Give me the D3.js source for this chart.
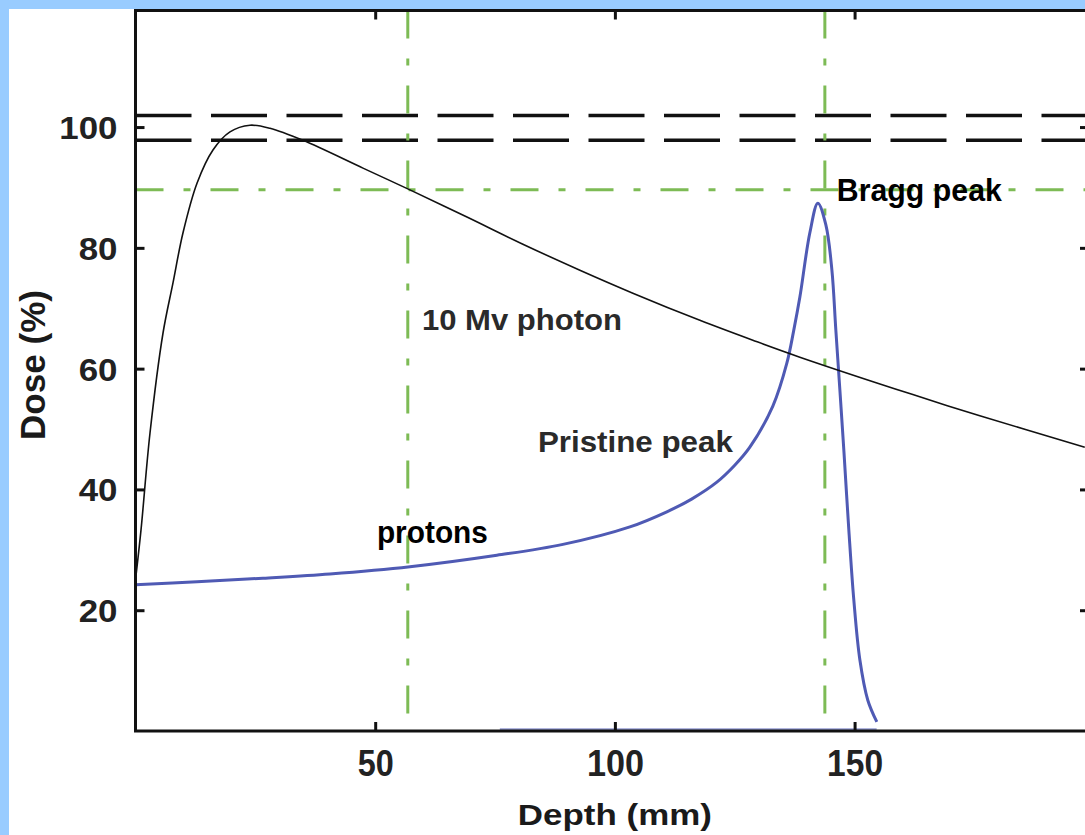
<!DOCTYPE html>
<html>
<head>
<meta charset="utf-8">
<script src="https://cdn.jsdelivr.net/npm/d3@7"></script>
<style>
  html, body { margin: 0; padding: 0; background: #99ccff; }
  svg { display: block; }
  text { font-family: "Liberation Sans", Arial, Helvetica, sans-serif; font-weight: bold; }
</style>
</head>
<body>
<script>
// ---- data ----
const photonDepth = [0, 1.15, 3.02, 5.74, 7.82, 9.91, 12.83, 16.16, 19.71, 23.88, 28.05, 34.93, 47.45, 57.25, 69.14, 80.81, 92.70, 103.75, 117.73, 128.78, 138.58, 162.15, 176.12, 198.02];
const photonDose  = [25.0, 33.3, 49.3, 65.9, 74.2, 82.5, 90.7, 96.2, 99.2, 100.3, 99.8, 97.8, 93.2, 89.6, 85.1, 80.6, 76.3, 72.5, 68.0, 64.7, 61.9, 55.7, 52.2, 47.0];

const protonDepth = [0, 12.83, 26.59, 40.56, 57.25, 75.39, 89.16, 103.13, 110.84, 116.0, 121.27, 125.0, 128.15, 132.95, 135.87, 137.3, 138.58, 140.67, 142.34, 144.01, 145.26, 146.09, 146.93, 147.76, 148.80, 149.84, 151.10, 152.76, 154.64];
const protonDose  = [24.2, 24.7, 25.3, 26.0, 27.2, 29.1, 30.9, 33.8, 36.3, 38.4, 41.2, 44.0, 47.0, 53.8, 60.9, 66.3, 71.8, 82.5, 87.4, 83.8, 76.4, 66.4, 56.5, 46.5, 33.3, 21.7, 11.8, 5.1, 1.5];

const protonTailDepth = [76.0, 154.6];
const protonTailDose  = [0.3, 0.3];

const blackDashedDose = [101.9, 97.8];
const greenHDose = [89.6];
const greenVDepth = [56.8, 143.8];

const xTicks = [50, 100, 150];
const xTickLabels = ["50", "100", "150"];
const yTicks = [20, 40, 60, 80, 100];
const yTickLabels = ["20", "40", "60", "80", "100"];

const labelTexts = ["Bragg peak", "10 Mv photon", "Pristine peak", "protons"];
const labelDepth = [146.3, 59.75, 83.94, 50.36];
const labelDose  = [87.7, 66.4, 46.2, 31.2];

const xTitle = "Depth (mm)";
const yTitle = "Dose (%)";

// ---- layout ----
const W = 1085, H = 835;
const L = 135.5, R = 1089, T = 10.5, B = 731;

const svg = d3.select("body").append("svg").attr("width", W).attr("height", H);
svg.append("rect").attr("x", 0).attr("y", 0).attr("width", W).attr("height", H).attr("fill", "#99ccff");
svg.append("rect").attr("x", 9).attr("y", 9).attr("width", W - 9).attr("height", H - 9).attr("fill", "#ffffff");

const x = d3.scaleLinear().domain([0, 198.9]).range([L, R]);
const y = d3.scaleLinear().domain([0, 119.3]).range([B, T]);

const g = svg.append("g");

// reference lines
g.selectAll(".bd").data(blackDashedDose).join("line")
  .attr("x1", L).attr("x2", R).attr("y1", d => y(d)).attr("y2", d => y(d))
  .attr("stroke", "#111").attr("stroke-width", 3.5).attr("stroke-dasharray", "56,19.5");

g.selectAll(".gh").data(greenHDose).join("line")
  .attr("x1", L).attr("x2", R).attr("y1", d => y(d)).attr("y2", d => y(d))
  .attr("stroke", "#7dbb55").attr("stroke-width", 3).attr("stroke-dasharray", "28,20,7,20");

g.selectAll(".gv").data(greenVDepth).join("line")
  .attr("y1", T).attr("y2", B).attr("x1", d => x(d)).attr("x2", d => x(d))
  .attr("stroke", "#7dbb55").attr("stroke-width", 3).attr("stroke-dasharray", "28,20,7,20");

// curves
const photon = photonDepth.map((d, i) => [d, photonDose[i]]);
const proton = protonDepth.map((d, i) => [d, protonDose[i]]);
const tail = protonTailDepth.map((d, i) => [d, protonTailDose[i]]);
const line = d3.line().x(d => x(d[0])).y(d => y(d[1])).curve(d3.curveCatmullRom.alpha(0.5));

g.append("path").datum(tail).attr("d", line).attr("fill", "none")
  .attr("stroke", "#6a74c0").attr("stroke-width", 2).attr("opacity", 0.7);
g.append("path").datum(proton).attr("d", line).attr("fill", "none")
  .attr("stroke", "#4f5ab4").attr("stroke-width", 3);
g.append("path").datum(photon).attr("d", line).attr("fill", "none")
  .attr("stroke", "#111").attr("stroke-width", 1.6);

// axes
const yAxisL = d3.axisLeft(y).tickValues(yTicks).tickSizeInner(-9).tickSizeOuter(0).tickPadding(18)
  .tickFormat((d, i) => yTickLabels[i]);
const yAxisR = d3.axisRight(y).tickValues(yTicks).tickSizeInner(-9).tickSizeOuter(0).tickFormat("");
const xAxisB = d3.axisBottom(x).tickValues(xTicks).tickSizeInner(-9).tickSizeOuter(0).tickPadding(18)
  .tickFormat((d, i) => xTickLabels[i]);
const xAxisT = d3.axisTop(x).tickValues(xTicks).tickSizeInner(-9).tickSizeOuter(0).tickFormat("");

function styleAxis(sel) {
  sel.select(".domain").remove();
  sel.selectAll(".tick line").attr("stroke", "#111").attr("stroke-width", 3);
}

const gl = svg.append("g").attr("transform", `translate(${L},0)`).call(yAxisL).call(styleAxis);
gl.selectAll(".tick text")
  .attr("font-size", 32).attr("fill", "#222").attr("font-family", null)
  .attr("dy", "0.36em")
  .attr("textLength", d => yTickLabels[yTicks.indexOf(d)].length * 19.4)
  .attr("lengthAdjust", "spacingAndGlyphs");

svg.append("g").attr("transform", `translate(${R},0)`).call(yAxisR).call(styleAxis);

const xLabelLens = [36, 57, 56];
const gb = svg.append("g").attr("transform", `translate(0,${B})`).call(xAxisB).call(styleAxis);
gb.selectAll(".tick text")
  .attr("font-size", 36).attr("fill", "#222").attr("font-family", null)
  .attr("y", 45).attr("dy", 0)
  .attr("textLength", d => xLabelLens[xTicks.indexOf(d)])
  .attr("lengthAdjust", "spacingAndGlyphs");

svg.append("g").attr("transform", `translate(0,${T})`).call(xAxisT).call(styleAxis);

// frame
svg.append("rect").attr("x", L).attr("y", T).attr("width", R - L).attr("height", B - T)
  .attr("fill", "none").attr("stroke", "#111").attr("stroke-width", 3);

// annotations
const labelSizes = [32, 29, 29, 31];
const labelLens = [165, 200, 195, 111];
const labelFill = ["#000", "#2a2a2a", "#2a2a2a", "#000"];
svg.selectAll(".ann").data(labelTexts).join("text")
  .attr("x", (d, i) => x(labelDepth[i])).attr("y", (d, i) => y(labelDose[i]))
  .attr("font-size", (d, i) => labelSizes[i])
  .attr("fill", (d, i) => labelFill[i])
  .attr("textLength", (d, i) => labelLens[i]).attr("lengthAdjust", "spacingAndGlyphs")
  .text(d => d);

// axis titles
svg.append("text").attr("x", x(100)).attr("y", 825).attr("text-anchor", "middle")
  .attr("font-size", 30).attr("fill", "#1a1a1a")
  .attr("textLength", 194).attr("lengthAdjust", "spacingAndGlyphs").text(xTitle);
svg.append("text").attr("transform", "translate(45,365) rotate(-90)").attr("text-anchor", "middle")
  .attr("font-size", 35).attr("fill", "#1a1a1a")
  .attr("textLength", 150).attr("lengthAdjust", "spacingAndGlyphs").text(yTitle);
</script>
</body>
</html>
